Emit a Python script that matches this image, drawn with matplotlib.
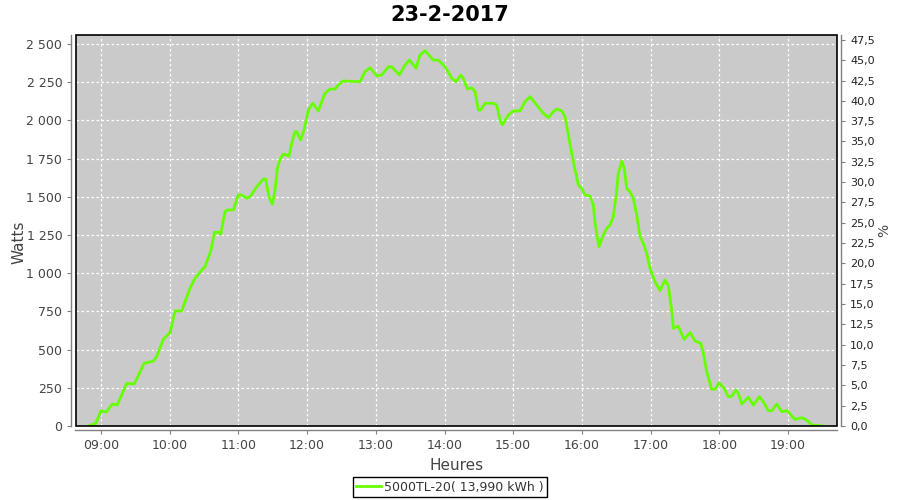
import matplotlib
matplotlib.use("Agg")
import matplotlib.pyplot as plt
from matplotlib.ticker import FuncFormatter, MultipleLocator
from matplotlib.patches import Rectangle

plt.rcParams['font.family'] = ['DejaVu Sans']

title = "23-2-2017"
series_label = "5000TL-20( 13,990 kWh )"

# minutes after 09:00
minutes = [-11.1, -4.6, 0.0, 4.4, 9.9, 14.2, 22.4, 29.1, 37.6, 45.7, 48.6, 54.4, 60.3, 64.6,
           70.5, 77.7, 82.1, 89.3, 90.8, 96.1, 99.0, 102.4, 104.5, 108.3, 110.3, 115.6,
           119.9, 122.9, 127.3, 130.1, 136.0, 141.8, 143.8, 146.7, 149.6, 152.0, 154.0,
           156.3, 159.2, 164.2, 166.6, 169.4, 170.9, 174.4, 177.3, 181.1, 184.9, 189.8,
           192.8, 195.6, 200.0, 204.4, 207.3, 211.1, 226.2, 230.6, 234.9, 240.8, 245.2,
           250.9, 253.9, 260.5, 265.5, 269.3, 275.1, 278.6, 283.0, 285.9, 290.2, 294.6,
           300.4, 304.8, 306.3, 310.1, 314.2, 316.4, 319.9, 323.8, 326.7, 329.5, 331.6,
           335.4, 342.6, 345.6, 348.5, 350.5, 355.7, 360.1, 366.0, 370.3, 374.7, 380.5,
           386.3, 390.7, 395.0, 398.0, 402.4, 405.3, 408.1, 411.1, 414.0, 416.9, 419.8,
           422.7, 427.1, 430.0, 431.5, 434.9, 438.7, 441.7, 444.5, 447.4, 449.8, 451.8,
           454.8, 457.0, 459.1, 462.0, 464.9, 467.9, 470.8, 473.6, 476.6, 479.5, 483.9,
           488.2, 492.6, 495.5, 498.4, 499.9, 504.2, 509.2, 514.4, 518.8, 523.8, 526.1,
           529.0, 533.4, 536.3, 539.8, 544.1, 547.9, 550.9, 554.6, 556.6, 559.6, 565.4,
           569.7, 575.0, 578.4, 582.8, 585.8, 590.2, 594.5, 599.4, 603.3, 606.1, 612.0,
           616.4, 620.7, 630.3]
watts = [0, 17, 100, 90, 144, 137, 279, 275, 410, 425, 454, 567, 611, 753,
         753, 901, 967, 1032, 1042, 1152, 1268, 1268, 1255, 1402, 1414, 1414,
         1512, 1512, 1490, 1500, 1566, 1616, 1616, 1500, 1451, 1544, 1686,
         1745, 1780, 1767, 1850, 1926, 1926, 1872, 1937, 2068, 2112, 2062,
         2123, 2177, 2205, 2205, 2232, 2258, 2253, 2319, 2345, 2292, 2297,
         2351, 2351, 2297, 2362, 2395, 2341, 2428, 2456, 2432, 2395, 2395,
         2351, 2297, 2275, 2253, 2297, 2275, 2205, 2214, 2188, 2068, 2068,
         2112, 2112, 2101, 2003, 1970, 2035, 2062, 2062, 2123, 2155, 2101,
         2047, 2018, 2057, 2075, 2062, 2025, 1910, 1785, 1675, 1577, 1556,
         1512, 1505, 1446, 1327, 1173, 1250, 1294, 1315, 1370, 1500, 1654,
         1734, 1687, 1556, 1533, 1490, 1381, 1240, 1196, 1130, 1030, 944,
         886, 955, 918, 759, 639, 654, 567, 611, 558, 540, 476,
         355, 240, 240, 283, 247, 192, 195, 236, 214, 144, 188,
         137, 192, 159, 100, 100, 144, 94, 100, 65, 44, 54,
         39, 7, 0]

hours = [9 + m / 60.0 for m in minutes]

fig = plt.figure(figsize=(9, 5), dpi=100)
ax = fig.add_axes([75.5 / 900, 1 - 426 / 500, (837 - 75.5) / 900, (426 - 35) / 500])
ax.set_facecolor('#cacaca')

ax.plot(hours, watts, color='#66ff00', lw=2.0, solid_joinstyle='round', zorder=3)

ax.set_xlim(9 + (75.5 - 101) / 68.7, 9 + (837 - 101) / 68.7)
ax.set_ylim(0, 2559)
ax.xaxis.set_major_locator(MultipleLocator(1))
ax.yaxis.set_major_locator(MultipleLocator(250))
ax.xaxis.set_major_formatter(FuncFormatter(lambda v, p: "%02d:00" % int(round(v))))
ax.yaxis.set_major_formatter(FuncFormatter(lambda v, p: ("{:,}".format(int(v))).replace(",", " ")))
ax.grid(True, color='white', ls=(0, (2, 2)), lw=0.9)
ax.set_axisbelow(True)

ax2 = ax.twinx()
ax2.set_ylim(0, 48.1)
ax2.yaxis.set_major_locator(MultipleLocator(2.5))
ax2.yaxis.set_major_formatter(FuncFormatter(lambda v, p: ("%.1f" % v).replace(".", ",")))

for a in (ax, ax2):
    for s in a.spines.values():
        s.set_visible(False)
ax.spines['left'].set_visible(True)
ax.spines['bottom'].set_visible(True)
ax2.spines['right'].set_visible(True)
for s in (ax.spines['left'], ax.spines['bottom'], ax2.spines['right']):
    s.set_position(('outward', 3))
    s.set_color('#808080')
    s.set_linewidth(1.0)

ax.add_patch(Rectangle((0, 0), 1, 1, transform=ax.transAxes, fill=False,
                       edgecolor='black', lw=1.2, zorder=5, clip_on=False))

ax.tick_params(axis='both', direction='out', length=3, color='#808080',
               labelcolor='#444444', labelsize=9)
ax2.tick_params(axis='y', direction='out', length=3, color='#808080',
                labelcolor='#222222', labelsize=8)

ax.set_ylabel("Watts", fontsize=11, color='#444444', fontweight='medium')
ax.yaxis.set_label_coords(-0.064, 0.47)
ax.set_xlabel("Heures", fontsize=11, color='#444444', labelpad=4)
ax2.set_ylabel("%", fontsize=10, color='#444444', labelpad=2)

fig.suptitle(title, x=0.5, y=0.99, fontsize=15, fontweight='bold')

line = ax.lines[0]
fig.legend([line], [series_label], loc='center', bbox_to_anchor=(0.5, 0.026),
           frameon=True, fancybox=False, edgecolor='black', framealpha=1,
           fontsize=9, handlelength=2.0, handletextpad=0.2, borderpad=0.3,
           labelcolor='#333333')

fig.savefig("out.png", dpi=100)
